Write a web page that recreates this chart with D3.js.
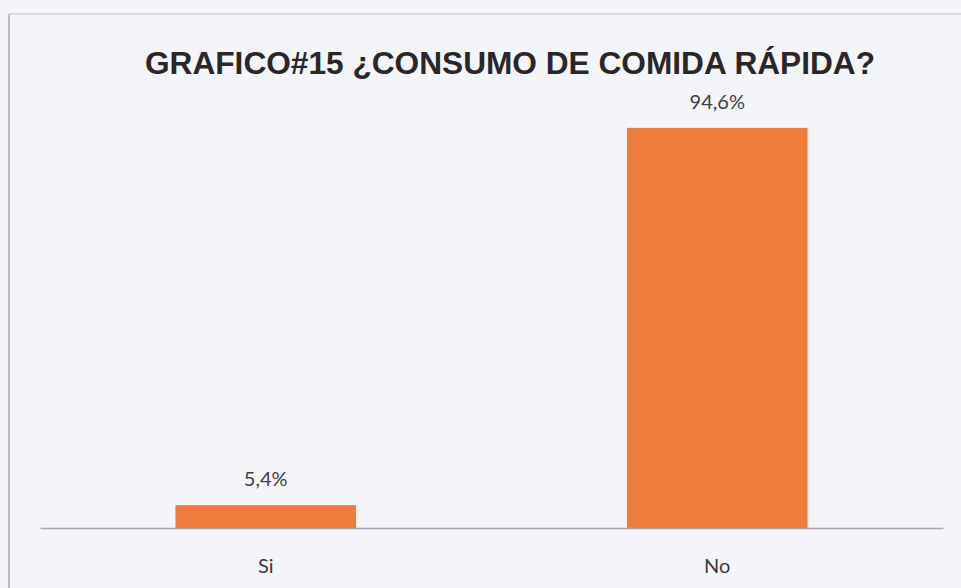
<!DOCTYPE html>
<html>
<head>
<meta charset="utf-8">
<script src="https://cdn.jsdelivr.net/npm/d3@7"></script>
<style>
  html, body { margin: 0; padding: 0; background: #f4f5f9; }
  svg { display: block; }
</style>
</head>
<body>
<svg id="chart" width="961" height="588"></svg>
<script>
// Survey answers and their shares (percent)
const categories = ["Si", "No"];
const values = [5.4, 94.6];
const valueLabels = ["5,4%", "94,6%"];
const title = "GRAFICO#15 ¿CONSUMO DE COMIDA RÁPIDA?";

const svg = d3.select("#chart");
const W = 961, H = 588;

// frame lines of the chart area
svg.append("line").attr("x1", 9).attr("x2", W).attr("y1", 14).attr("y2", 14)
  .attr("stroke", "#cfd0d4").attr("stroke-width", 1.5);
svg.append("line").attr("x1", 9).attr("x2", 9).attr("y1", 14).attr("y2", H)
  .attr("stroke", "#a9aaae").attr("stroke-width", 1.5);

const plot = { left: 40, right: 943, top: 105, bottom: 528 };

const x = d3.scaleBand()
  .domain(categories)
  .range([plot.left, plot.right])
  .paddingInner(0.6)
  .paddingOuter(0.3);

const y = d3.scaleLinear()
  .domain([0, 100])
  .range([plot.bottom, plot.top]);

// title
svg.append("text")
  .attr("x", 510).attr("y", 74)
  .attr("text-anchor", "middle")
  .attr("font-family", "Liberation Sans, Arial, sans-serif")
  .attr("font-weight", "bold")
  .attr("font-size", 31)
  .attr("fill", "#2b2628")
  .attr("textLength", 730)
  .attr("lengthAdjust", "spacingAndGlyphs")
  .text(title);

// bars
svg.append("g").selectAll("rect")
  .data(categories)
  .join("rect")
  .attr("x", d => x(d))
  .attr("width", x.bandwidth())
  .attr("y", (d, i) => y(values[i]))
  .attr("height", (d, i) => y(0) - y(values[i]))
  .attr("fill", "#ee7d3a");

// baseline / category axis
const axis = svg.append("g")
  .attr("transform", `translate(0,${plot.bottom})`)
  .call(d3.axisBottom(x).tickSize(0).tickPadding(31));
axis.select(".domain").attr("stroke", "#a6a8ac").attr("stroke-width", 1.5);
axis.selectAll("text")
  .attr("font-family", "Lato, 'Open Sans', sans-serif")
  .attr("font-size", 20)
  .attr("fill", "#3a3a3a");

// value labels above bars
svg.append("g").selectAll("text")
  .data(categories)
  .join("text")
  .attr("x", d => x(d) + x.bandwidth() / 2)
  .attr("y", (d, i) => y(values[i]) - 19)
  .attr("text-anchor", "middle")
  .attr("font-family", "Lato, 'Open Sans', sans-serif")
  .attr("font-size", 20)
  .attr("fill", "#404040")
  .text((d, i) => valueLabels[i]);
</script>
</body>
</html>
